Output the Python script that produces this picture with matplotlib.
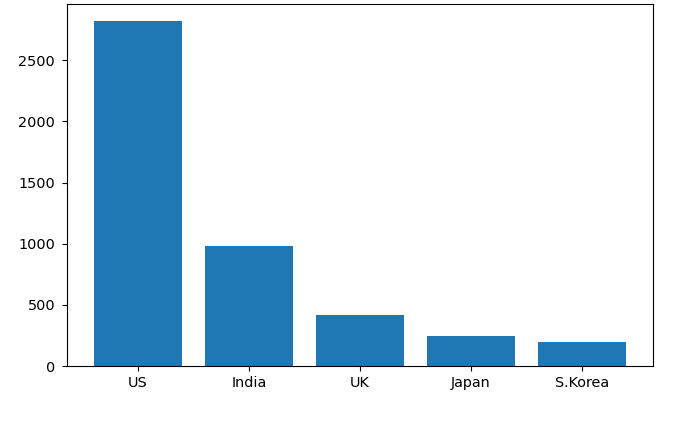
import matplotlib
matplotlib.use("Agg")
import matplotlib.pyplot as plt

countries = ["US", "India", "UK", "Japan", "S.Korea"]
values = [2820, 978, 418, 246, 199]

fig = plt.figure(figsize=(6.89, 4.33), dpi=100)
ax = fig.add_axes([67/689, 1-366/433, (653-67)/689, (366-4)/433])
ax.bar(countries, values, color="#1f77b4")
ax.tick_params(axis="y", labelsize=10.4, pad=5)
ax.tick_params(axis="x", labelsize=10.4)
fig.savefig("out.png", dpi=100)
